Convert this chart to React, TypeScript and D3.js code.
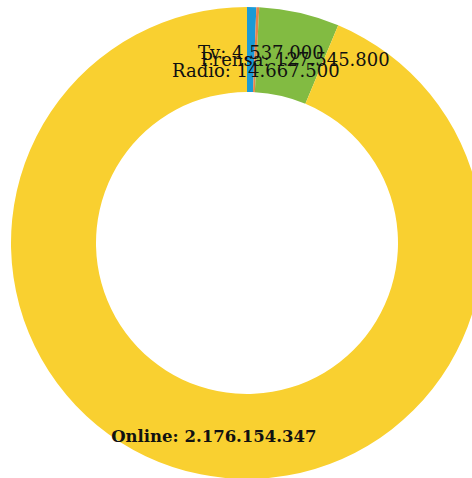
import React, { useEffect, useRef } from "react";
import * as d3 from "d3";

const medios = ["Radio", "Tv", "Prensa", "Online"];
const inversion = [14667500, 4537000, 127545800, 2176154347];
const colores = ["#1b9ad6", "#e8834a", "#82bb42", "#f9d030"];
// vertical nudge of each label from its slice centroid (px)
const labelDy = [27, 9, 12, 9];

const W = 472;
const H = 478;

const fmt = (v: number) => d3.format(",")(v).replace(/,/g, ".");

export default function App() {
  const svgRef = useRef<SVGSVGElement>(null);

  useEffect(() => {
    document.body.style.margin = "0";
    const svg = d3.select(svgRef.current);
    svg.selectAll("*").remove();

    const data = medios.map((m, i) => ({ medio: m, valor: inversion[i], i }));
    const pie = d3.pie<any>().sort(null).value((d) => d.valor);
    const arc = d3.arc<any>().innerRadius(151).outerRadius(236);
    const arcs = pie(data);

    const g = svg.append("g").attr("transform", `translate(247, 243)`);

    g.selectAll("path")
      .data(arcs)
      .join("path")
      .attr("d", arc)
      .attr("fill", (d) => colores[d.data.i]);

    g.selectAll("text")
      .data(arcs)
      .join("text")
      .attr("x", (d) => arc.centroid(d)[0] + 5)
      .attr("y", (d) => arc.centroid(d)[1] + labelDy[d.data.i])
      .attr("text-anchor", "middle")
      .style("font-family", "'DejaVu Serif', serif")
      .style("font-size", (d) => (d.data.medio === "Online" ? "16.5px" : "18px"))
      .style("font-weight", (d) => (d.data.medio === "Online" ? "bold" : "normal"))
      .attr("fill", "#111")
      .text((d) => `${d.data.medio}: ${fmt(d.data.valor)}`);
  }, []);

  return (
    <div style={{ width: W, height: H }}>
      <svg ref={svgRef} width={W} height={H} style={{ display: "block" }} />
    </div>
  );
}
